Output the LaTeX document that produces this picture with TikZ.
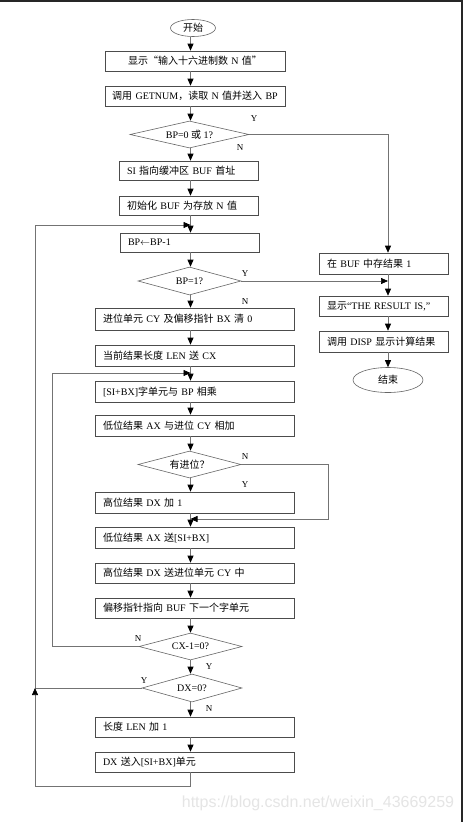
\documentclass[tikz,border=0pt]{standalone}
\usepackage{fontspec}
\setmainfont{Liberation Serif}
\newfontfamily\cjk{Noto Sans CJK SC}
\newfontfamily\wmfont{Liberation Sans}
\usetikzlibrary{shapes.geometric,arrows.meta}
\newcommand\zh[1]{{\cjk #1}}
\begin{document}
\begin{tikzpicture}[x=1pt,y=-1pt,
  box/.style={draw=black!70, line width=0.6pt, rectangle, inner xsep=8pt, inner ysep=0pt, minimum height=20pt, align=left, font=\fontsize{10}{12}\selectfont},
  dia/.style={draw=black!60, line width=0.6pt, diamond, aspect=4.4, inner sep=0pt, font=\fontsize{10}{12}\selectfont},
  term/.style={draw=black!60, line width=0.6pt, ellipse, inner sep=0pt, font=\fontsize{10}{12}\selectfont},
  lbl/.style={font=\fontsize{9}{10}\selectfont, inner sep=0pt},
  ln/.style={draw=black!55, line width=0.7pt},
  arr/.style={ln, -{Triangle[color=black,width=6pt,length=7pt]}}
]
\useasboundingbox (0,0) rectangle (463,822);
\fill[white] (0,0) rectangle (463,822);
\fill[black!85] (0,0) rectangle (463,2);
\fill[black!85] (461,0) rectangle (463,822);

\coordinate (ax) at (190.5,0);
\coordinate (rx) at (388,0);

% main column
\node[term, minimum width=45pt, minimum height=17pt] (st) at (193,28) {\zh{开始}};
\node[box, inner xsep=2pt, text width=176pt, align=center] (b1) at (195,61) {\zh{显示“输入十六进制数} N \zh{值”}};
\node[box, inner xsep=2pt, text width=176pt, align=center] (b2) at (195,96) {\zh{调用} GETNUM\zh{，读取} N \zh{值并送入} BP};
\node[dia, minimum width=119pt, minimum height=27pt] (d1) at (189.5,134.5) {BP=0 \zh{或} 1?};
\node[box, text width=123pt, minimum height=19pt] (b3) at (188.5,170.5) {SI \zh{指向缓冲区} BUF \zh{首址}};
\node[box, text width=123pt, minimum height=19pt] (b4) at (188.5,205.5) {\zh{初始化} BUF \zh{为存放} N \zh{值}};
\node[box, text width=123pt, minimum height=19pt] (b5) at (189.5,242.5) {BP$\leftarrow$BP-1};
\node[dia, minimum width=103pt, minimum height=28pt] (d2) at (189.5,281) {BP=1?};
\node[box, text width=183pt, minimum height=22pt] (b6) at (194.5,319) {\zh{进位单元} CY \zh{及偏移指针} BX \zh{清} 0};
\node[box, text width=183pt, minimum height=21pt] (b7) at (194.5,355.5) {\zh{当前结果长度} LEN \zh{送} CX};
\node[box, text width=183pt, minimum height=21pt] (b8) at (194.5,391.5) {[SI+BX]\zh{字单元与} BP \zh{相乘}};
\node[box, text width=183pt, minimum height=21pt] (b9) at (194.5,425.5) {\zh{低位结果} AX \zh{与进位} CY \zh{相加}};
\node[dia, minimum width=103pt, minimum height=27pt] (d3) at (189.5,464.5) {\zh{有进位？}};
\node[box, text width=183pt, minimum height=21pt] (b10) at (194.5,502.5) {\zh{高位结果} DX \zh{加} 1};
\node[box, text width=183pt, minimum height=21pt] (b11) at (194.5,537.5) {\zh{低位结果} AX \zh{送}[SI+BX]};
\node[box, text width=183pt, minimum height=20pt] (b12) at (194.5,573) {\zh{高位结果} DX \zh{送进位单元} CY \zh{中}};
\node[box, text width=183pt, minimum height=20pt] (b13) at (194.5,608) {\zh{偏移指针指向} BUF \zh{下一个字单元}};
\node[dia, minimum width=103pt, minimum height=27pt] (d4) at (190.5,646.5) {CX-1=0?};
\node[dia, minimum width=100pt, minimum height=28pt] (d5) at (192,688) {DX=0?};
\node[box, text width=183pt, minimum height=20pt] (b14) at (194.5,727) {\zh{长度} LEN \zh{加} 1};
\node[box, text width=183pt, minimum height=20pt] (b15) at (194.5,762) {DX \zh{送入}[SI+BX]\zh{单元}};

% right column
\node[box, text width=113pt, minimum height=21pt] (r1) at (383.5,263.5) {\zh{在} BUF \zh{中存结果} 1};
\node[box, text width=113pt, minimum height=20pt] (r2) at (383.5,306) {\zh{显示}“THE RESULT IS,”};
\node[box, text width=113pt, minimum height=21pt] (r3) at (383.5,341.5) {\zh{调用} DISP \zh{显示计算结果}};
\node[term, minimum width=70pt, minimum height=25pt] (en) at (388,380) {\zh{结束}};

% helper coordinates
\coordinate (j1) at (190.5,225);
\coordinate (j2) at (190.5,373);
\coordinate (j3) at (190.5,519);
\coordinate (l5) at (35,688);
\coordinate (l5t) at (35,225);
\coordinate (bot) at (35,786);
\coordinate (botm) at (190.5,786);
\coordinate (l4) at (52,646.5);
\coordinate (l4t) at (52,373);
\coordinate (n3a) at (328,464.5);
\coordinate (n3b) at (328,519);

% main flow
\draw[arr] (st.south -| ax) -- (b1.north -| ax);
\draw[arr] (b1.south -| ax) -- (b2.north -| ax);
\draw[arr] (b2.south -| ax) -- (d1.north -| ax);
\draw[arr] (d1.south -| ax) -- (b3.north -| ax);
\draw[arr] (b3.south -| ax) -- (b4.north -| ax);
\draw[arr] (b4.south -| ax) -- (b5.north -| ax);
\draw[arr] (b5.south -| ax) -- (d2.north -| ax);
\draw[arr] (d2.south -| ax) -- (b6.north -| ax);
\draw[arr] (b6.south -| ax) -- (b7.north -| ax);
\draw[arr] (b7.south -| ax) -- (b8.north -| ax);
\draw[arr] (b8.south -| ax) -- (b9.north -| ax);
\draw[arr] (b9.south -| ax) -- (d3.north -| ax);
\draw[arr] (d3.south -| ax) -- (b10.north -| ax);
\draw[arr] (b10.south -| ax) -- (b11.north -| ax);
\draw[arr] (b11.south -| ax) -- (b12.north -| ax);
\draw[arr] (b12.south -| ax) -- (b13.north -| ax);
\draw[arr] (b13.south -| ax) -- (d4.north -| ax);
\draw[arr] (d4.south -| ax) -- (d5.north -| ax);
\draw[arr] (d5.south -| ax) -- (b14.north -| ax);
\draw[arr] (b14.south -| ax) -- (b15.north -| ax);

% loops and branches
\draw[arr] (d5.west) -- (l5) -- (l5t) -- (j1);
\draw[arr] (b15.south -| ax) -- (botm) -- (bot) -- (l5);
\draw[arr] (d4.west) -- (l4) -- (l4t) -- (j2);
\draw[arr] (d3.east) -- (n3a) -- (n3b) -- (j3);
\draw[arr] (d1.east) -| (r1.north -| rx);
\draw[arr] (d2.east) -- (d2.east -| rx);
\draw[arr] (r1.south -| rx) -- (r2.north -| rx);
\draw[arr] (r2.south -| rx) -- (r3.north -| rx);
\draw[arr] (r3.south -| rx) -- (en.north);

% labels
\node[lbl] (y1) at (254,119) {Y};
\node[lbl] (n1) at (240,148) {N};
\node[lbl] (y2) at (245,274) {Y};
\node[lbl] (n2) at (245,302) {N};
\node[lbl] (n3) at (245,457) {N};
\node[lbl] (y3) at (245,485) {Y};
\node[lbl] (n4) at (138,639) {N};
\node[lbl] (y4) at (209,667) {Y};
\node[lbl] (y5) at (144,681) {Y};
\node[lbl] (n5) at (209,709) {N};

% watermark
\node[font=\wmfont\fontsize{16}{16}\selectfont, text=black!10, inner sep=0pt] (wm) at (318,803) {https://blog.csdn.net/weixin\_43669259};
\end{tikzpicture}
\end{document}
